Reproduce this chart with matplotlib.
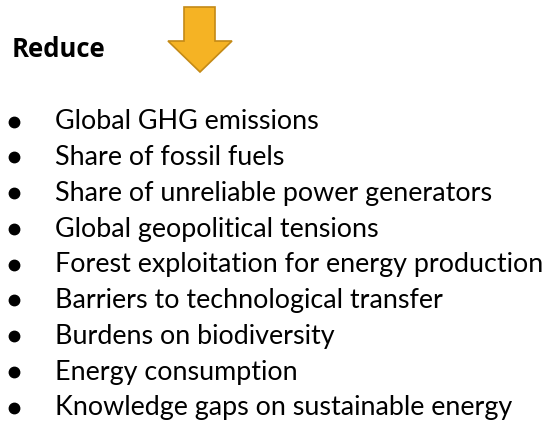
import matplotlib
matplotlib.use("Agg")
import matplotlib.pyplot as plt
from matplotlib.patches import Polygon

# Content
title = "Reduce"
items = [
    "Global GHG emissions",
    "Share of fossil fuels",
    "Share of unreliable power generators",
    "Global geopolitical tensions",
    "Forest exploitation for energy production",
    "Barriers to technological transfer",
    "Burdens on biodiversity",
    "Energy consumption",
    "Knowledge gaps on sustainable energy",
]

W, H = 558, 427
fig = plt.figure(figsize=(W / 100, H / 100), dpi=100)
fig.patch.set_facecolor("white")
ax = fig.add_axes([0, 0, 1, 1])
ax.set_xlim(0, W)
ax.set_ylim(H, 0)
ax.axis("off")

font = "Lato"

# Heading
ax.text(12, 57, title, fontsize=18.5, fontweight="bold", family="Open Sans",
        ha="left", va="baseline", color="black")

# Down arrow
arrow = Polygon([(184, 8), (215, 8), (215, 42), (232, 42), (200, 73),
                 (168, 42), (184, 42)],
                closed=True, facecolor="#F5B324", edgecolor="#C48A16", lw=1.2)
ax.add_patch(arrow)

# Bullet list
y0, dy = 129.5, 35.75
for i, item in enumerate(items):
    y = y0 + i * dy
    ax.plot(13.5, y - 7, marker="o", ms=7.5, color="black")
    ax.text(55, y, item, fontsize=19.4, family=font, ha="left", va="baseline",
            color="black")

fig.savefig("out.png", dpi=100, facecolor="white")
